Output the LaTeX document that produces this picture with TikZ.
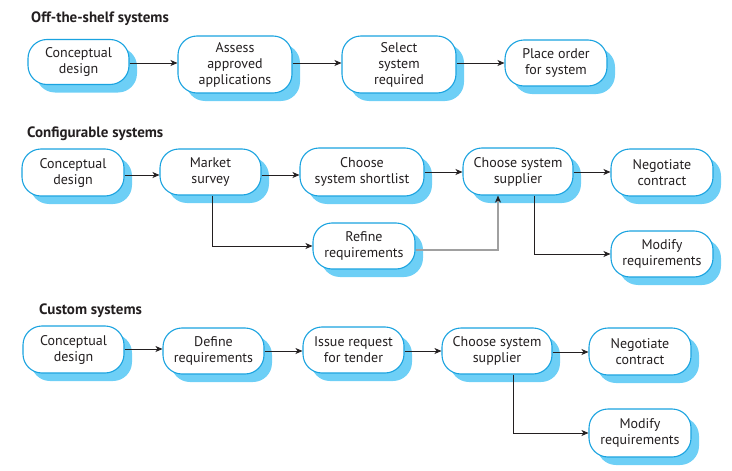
\documentclass[tikz,border=0pt]{standalone}
\usepackage{fontspec}
\setmainfont{PT Sans}
\usetikzlibrary{shadows,arrows.meta}
\definecolor{bord}{HTML}{1AA3E0}
\definecolor{shad}{HTML}{6DCFF6}
\definecolor{ink}{HTML}{231F20}
\definecolor{greyln}{HTML}{A0A0A0}
\tikzset{
  box/.style={draw=bord, line width=1.1pt, fill=white, rounded corners=19pt,
    align=center, inner sep=0pt, font=\fontsize{14}{16}\selectfont, text=ink,
    drop shadow={shadow xshift=8pt, shadow yshift=-8pt, fill=shad, opacity=1, draw=none}},
  arr/.style={draw=ink, line width=0.8pt, -{Stealth[length=7pt,width=6pt,inset=2pt]}},
  garr/.style={draw=greyln, line width=1.1pt, -{Stealth[length=7pt,width=6pt,inset=2pt,color=ink]}},
  title/.style={font=\bfseries\fontsize{15}{17}\selectfont, anchor=base west, text=ink, inner sep=0pt}
}
\begin{document}
\begin{tikzpicture}[x=1pt,y=-1pt]
\useasboundingbox (0,0) rectangle (732,471);
% Row 1
\node[title] (t1) at (31,22) {Off-the-shelf systems};
\node[box, minimum width=101pt, minimum height=45pt] (a1) at (78.5,62) {Conceptual\\design};
\node[box, minimum width=114pt, minimum height=57pt] (a2) at (235,64.5) {Assess\\approved\\applications};
\node[box, minimum width=114pt, minimum height=57pt] (a3) at (399,64.5) {Select\\system\\required};
\node[box, minimum width=102pt, minimum height=46pt] (a4) at (556,63) {Place order\\for system};
\draw[arr] (a1.east |- 0,63) -- (a2.west |- 0,63);
\draw[arr] (a2.east |- 0,63) -- (a3.west |- 0,63);
\draw[arr] (a3.east |- 0,63) -- (a4.west |- 0,63);
% Row 2
\node[title] (t2) at (27,137) {Configurable systems};
\node[box, minimum width=102pt, minimum height=47pt] (b1) at (73,172.5) {Conceptual\\design};
\node[box, minimum width=101pt, minimum height=46pt] (b2) at (210.5,172) {Market\\survey};
\node[box, minimum width=124pt, minimum height=48pt] (b3) at (362,172) {Choose\\system shortlist};
\node[box, minimum width=110pt, minimum height=47pt] (b4) at (518,171.5) {Choose system\\supplier};
\node[box, minimum width=102pt, minimum height=47pt] (b5) at (662,172.5) {Negotiate\\contract};
\node[box, minimum width=102pt, minimum height=46pt] (b6) at (364,246) {Refine\\requirements};
\node[box, minimum width=102pt, minimum height=46pt] (b7) at (662,254) {Modify\\requirements};
\draw[arr] (b1.east |- 0,175) -- (b2.west |- 0,175);
\draw[arr] (b2.east |- 0,175) -- (b3.west |- 0,175);
\draw[arr] (b3.east |- 0,172) -- (b4.west |- 0,172);
\draw[arr] (b4.east |- 0,172) -- (b5.west |- 0,172);
\draw[arr] ([xshift=1.5pt]b2.south) |- (b6.west);
\draw[garr] ([yshift=-4pt]b6.east) -| ([xshift=-20pt]b4.south);
\draw[arr] ([xshift=16pt]b4.south) |- (b7.west);
% Row 3
\node[title] (t3) at (39,314) {Custom systems};
\node[box, minimum width=101pt, minimum height=47pt] (c1) at (73.5,349.5) {Conceptual\\design};
\node[box, minimum width=101pt, minimum height=46pt] (c2) at (213.5,351) {Define\\requirements};
\node[box, minimum width=101pt, minimum height=46pt] (c3) at (353.5,350) {Issue request\\for tender};
\node[box, minimum width=110pt, minimum height=46pt] (c4) at (497,351) {Choose system\\supplier};
\node[box, minimum width=102pt, minimum height=47pt] (c5) at (640,351.5) {Negotiate\\contract};
\node[box, minimum width=102pt, minimum height=48pt] (c6) at (640,433) {Modify\\requirements};
\draw[arr] (c1.east |- 0,349) -- (c2.west |- 0,349);
\draw[arr] (c2.east |- 0,351) -- (c3.west |- 0,351);
\draw[arr] (c3.east |- 0,351) -- (c4.west |- 0,351);
\draw[arr] (c4.east |- 0,352) -- (c5.west |- 0,352);
\draw[arr] ([xshift=16pt]c4.south) |- (c6.west);
\end{tikzpicture}
\end{document}
